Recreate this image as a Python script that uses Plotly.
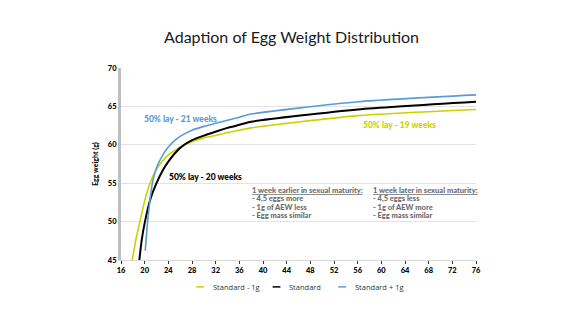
import plotly.graph_objects as go

# ---- data ----
weeks_minus = [17.9, 18.5, 19.2, 20.0, 20.9, 22.0, 23.0, 24.0, 25.0, 26.0, 28.0, 30.0, 32.0, 34.0, 36.0, 38.0, 56.0, 76.0]
egg_minus   = [45.0, 47.6, 50.0, 52.7, 55.0, 56.8, 57.9, 58.7, 59.2, 59.7, 60.4, 60.9, 61.2, 61.6, 61.9, 62.2, 63.8, 64.6]

weeks_std = [19.1, 19.5, 20.05, 21.0, 22.0, 23.0, 24.0, 25.0, 26.0, 28.0, 30.0, 32.0, 34.0, 36.0, 38.0, 56.0, 76.0]
egg_std   = [45.0, 47.6, 50.0, 53.0, 55.0, 56.6, 57.8, 58.8, 59.6, 60.6, 61.2, 61.7, 62.2, 62.6, 63.0, 64.6, 65.6]

weeks_plus = [20.1, 20.5, 21.3, 22.0, 23.0, 24.0, 25.0, 26.0, 28.0, 30.0, 32.0, 34.0, 36.0, 38.0, 56.0, 76.0]
egg_plus   = [46.2, 50.0, 55.0, 57.0, 58.6, 59.7, 60.5, 61.1, 61.9, 62.4, 62.8, 63.2, 63.6, 64.0, 65.6, 66.5]

series_names  = ["Standard - 1g", "Standard", "Standard + 1g"]
series_colors = ["#c9d200", "#000000", "#5b9bd5"]

x_ticks = list(range(16, 80, 4))
y_ticks = [45, 50, 55, 60, 65, 70]

title_text = "Adaption of Egg Weight Distribution"
y_title = "Egg weight (g)"

note_earlier = ["1 week earlier in sexual maturity:", "- 4,5 eggs more", "- 1g of AEW less", "- Egg mass similar"]
note_later = ["1 week later in sexual maturity:", "- 4,5 eggs less", "- 1g of AEW more", "- Egg mass similar"]

# ---- figure ----
fig = go.Figure()
xs = [weeks_minus, weeks_std, weeks_plus]
ys = [egg_minus, egg_std, egg_plus]
widths = [1.6, 2.0, 1.6]
for xv, yv, nm, col, w in zip(xs, ys, series_names, series_colors, widths):
    fig.add_trace(go.Scatter(x=xv, y=yv, name=nm, mode="lines",
                             line=dict(color=col, width=w, shape="spline", smoothing=0.6),
                             showlegend=False))

font_b = "Lato Black, Lato, Arial"
annotations = [
    dict(text="50% lay - 21 weeks", x=19.5, y=63.35, xref="x", yref="y", xanchor="left", yanchor="middle",
         showarrow=False, font=dict(family=font_b, size=8.5, color="#5b9bd5"), ),
    dict(text="50% lay - 20 weeks", x=23.8, y=55.8, xref="x", yref="y", xanchor="left", yanchor="middle",
         showarrow=False, font=dict(family=font_b, size=8.5, color="#000000")),
    dict(text="50% lay - 19 weeks", x=56.6, y=62.6, xref="x", yref="y", xanchor="left", yanchor="middle",
         showarrow=False, font=dict(family=font_b, size=8.5, color="#c9d200")),
]

# explanatory notes, one annotation per line for tight line spacing
note_line_gap = 1.08  # in y data units (~8.3 px)
for nx, lines in [(37.8, note_earlier), (58.2, note_later)]:
    for i, ln in enumerate(lines):
        txt = "<u>" + ln + "</u>" if i == 0 else ln
        annotations.append(dict(text=txt, x=nx, y=54.05 - i * note_line_gap, xref="x", yref="y",
                                xanchor="left", yanchor="middle", showarrow=False,
                                font=dict(family=font_b, size=7.5, color="#6b6b6b")))

# custom legend (short swatches like the reference)
legend_x = [0.212, 0.427, 0.612]
shapes = []
for lx, nm, col in zip(legend_x, series_names, series_colors):
    shapes.append(dict(type="line", xref="paper", yref="paper", x0=lx, x1=lx + 0.022,
                       y0=-0.14, y1=-0.14, line=dict(color=col, width=1.5)))
    annotations.append(dict(text=nm, xref="paper", yref="paper", x=lx + 0.041, y=-0.14,
                            xanchor="left", yanchor="middle", showarrow=False,
                            font=dict(family="Open Sans, Arial", size=7.5, color="#333333")))

fig.update_layout(
    width=575, height=322,
    margin=dict(l=121, r=99, t=68, b=62),
    paper_bgcolor="white", plot_bgcolor="white",
    title=dict(text=title_text, x=0.507, xanchor="center", y=0.885, yanchor="middle",
               font=dict(family="Lato, Arial", size=16, color="#1a1a1a")),
    annotations=annotations,
    shapes=shapes,
    showlegend=False,
)
fig.update_xaxes(range=[16, 76], tickvals=x_ticks, ticks="outside", ticklen=3, tickcolor="#333",
                 tickfont=dict(family=font_b, size=7.5, color="#000"), showgrid=False,
                 showline=True, linecolor="#d9d9d9", linewidth=1, zeroline=False)
fig.update_yaxes(range=[45, 70], tickvals=y_ticks, ticks="", showgrid=True, gridcolor="#e3e3e3",
                 tickfont=dict(family=font_b, size=7.5, color="#000"),
                 showline=True, linecolor="#bfbfbf", linewidth=3, zeroline=False,
                 title=dict(text=y_title, standoff=9, font=dict(family=font_b, size=7, color="#000")))

fig.write_html("out.html")
